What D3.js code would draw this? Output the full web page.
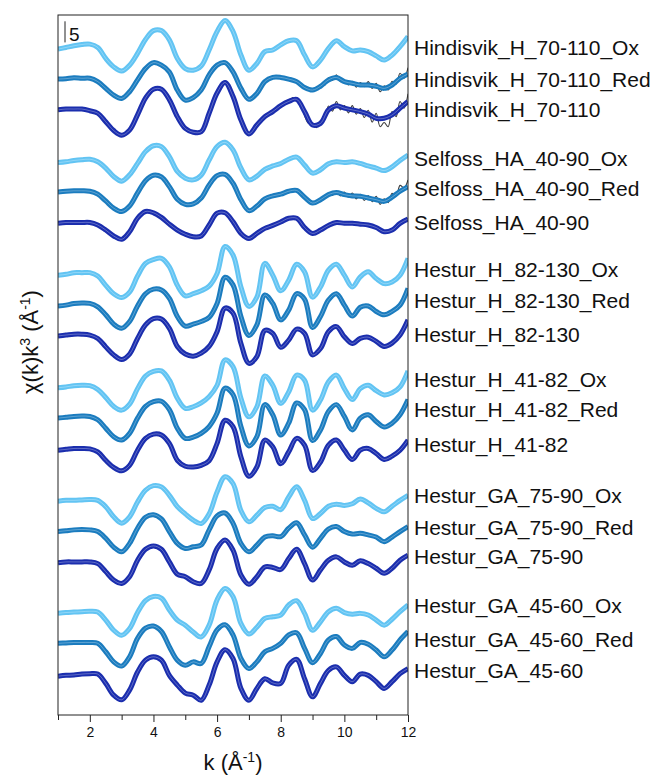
<!DOCTYPE html>
<html>
<meta charset="utf-8">
<head>
<title>chi(k)k3 stacked spectra</title>
<script src="https://d3js.org/d3.v7.min.js"></script>
<style>
body { margin: 0; background: #fff; }
text { font-family: Arial, "Liberation Sans", sans-serif; fill: #111; }
</style>
</head>
<body>
<div id="plot"></div>
<script>

// k grid of the read values
var kStart = 1, kStep = 0.25;
var kHiStart = 8, kHiStep = 0.125;

var names = [
	"Hindisvik_H_70-110_Ox", "Hindisvik_H_70-110_Red", "Hindisvik_H_70-110",
	"Selfoss_HA_40-90_Ox", "Selfoss_HA_40-90_Red", "Selfoss_HA_40-90",
	"Hestur_H_82-130_Ox", "Hestur_H_82-130_Red", "Hestur_H_82-130",
	"Hestur_H_41-82_Ox", "Hestur_H_41-82_Red", "Hestur_H_41-82",
	"Hestur_GA_75-90_Ox", "Hestur_GA_75-90_Red", "Hestur_GA_75-90",
	"Hestur_GA_45-60_Ox", "Hestur_GA_45-60_Red", "Hestur_GA_45-60"
];

// vertical offset of each trace
var offsets = [157.7, 150.8, 143.5, 131.0, 124.0, 116.6, 104.3, 97.0, 89.9,
	77.6, 70.4, 62.8, 50.7, 43.5, 36.1, 24.1, 17.0, 9.2];

var hindOx = [0.2,0.6,1.0,1.3,1.4,0.6,-2.0,-4.0,-5.0,-3.6,-0.8,2.5,4.6,4.6,2.4,-2.0,-4.4,-4.8,-3.8,0,4.4,7.0,4.4,-1.2,-4.8,-3.2,-0.4,0,1.2,2.2,2.2,-1.2,-4.0,-2.4,0.4,2.2,0.8,-0.2,0,-0.4,-1.4,-2.4,-1.2,0.8,3.2];
var hindRed = [0,0.1,0.3,0.2,0.2,-0.6,-2.2,-3.8,-4.6,-3.0,-0.2,2.5,3.9,3.3,1.7,-2.6,-5.0,-4.4,-2.6,1.0,3.3,3.9,1.7,-2.2,-4.8,-3.4,-0.6,0.4,0.4,0,-0.6,-2.0,-2.6,-1.7,-0.2,0.4,-0.6,-1.0,-1.4,-1.4,-1.7,-2.2,-1.4,0.2,1.2];
var hind = [0,0.2,0.2,0.2,-0.2,-0.8,-2.8,-4.9,-6.0,-4.8,-1.2,2.8,4.9,4.9,2.4,-1.6,-4.4,-5.3,-5.2,-0.8,4.0,6.5,3.2,-2.4,-5.7,-3.6,-1.6,-0.4,1.0,2.0,2.5,-0.4,-3.6,-3.2,0,1.0,0.4,0,-0.4,-1.0,-2.0,-2.0,-1.2,0.4,2.0];
var selfOx = [0,0.2,0.5,0.7,0.8,0.2,-1.3,-3.3,-4.4,-2.9,-0.2,2.6,4.0,3.8,1.4,-2.1,-3.7,-4.1,-3.0,0.6,3.8,4.8,3.0,-1.3,-4.1,-3.2,-1.6,-0.8,-0.2,0.8,1.3,-0.6,-2.5,-1.7,-0.3,0.2,0,0.2,-0.2,-0.8,-1.3,-1.9,-1.0,0.5,1.8];
var selfRed = [0,0.2,0.3,0.3,0.2,-0.5,-2.1,-3.8,-4.6,-3.3,-0.2,2.7,4.0,3.6,1.3,-1.7,-2.9,-2.8,-1.4,1.7,3.9,4.2,2.1,-1.8,-4.4,-3.3,-1.6,-0.9,-0.5,0.2,0.4,-1.2,-2.6,-1.8,-0.6,-0.1,-0.6,-0.9,-1.0,-1.4,-1.8,-2.2,-1.2,0.2,1.3];
var self = [0,0.2,0.2,0.2,0.2,-0.4,-1.6,-3.0,-3.8,-2.0,1.2,2.8,2.5,1.4,-0.2,-1.6,-2.6,-3.2,-3.0,-0.4,2.4,2.5,0.4,-2.4,-3.6,-2.4,-1.2,-0.5,0.3,1.2,1.2,-1.0,-2.4,-1.6,-0.5,0.2,0,0,-0.2,-0.4,-1.0,-2.0,-1.6,0,1.0];
var h82Ox = [0,0.2,0.6,0.6,0.6,-0.2,-2.4,-4.4,-5.3,-4.0,-0.2,2.8,3.7,4.0,2.0,-2.4,-4.9,-4.4,-3.7,-2.6,0.4,6.8,4.8,-2.8,-7.4,-5.2,2.8,0,-3.7,-1.2,2.6,0.8,-5.2,-2.8,1.2,2.6,0,-2.8,-0.4,0.8,-0.8,-2.0,-1.6,0,4.0];
var h82Red = [0,0.2,0.6,0.7,0.6,-0.2,-2.1,-4.3,-5.3,-3.7,0,2.9,4.0,3.8,1.8,-2.5,-4.8,-4.3,-3.7,-2.7,0.6,6.8,5.0,-2.5,-7.0,-4.5,2.6,0.6,-3.3,-1.0,2.9,1.6,-5.1,-2.5,1.4,2.9,0.2,-2.4,-0.3,0,-1.3,-2.1,-1.3,0.2,4.2];
var h82 = [0,0.2,0.4,0.4,0.2,-0.6,-2.6,-4.5,-5.6,-4.3,-0.6,2.6,4.1,4.0,1.8,-2.5,-4.3,-4.8,-4.1,-2.5,1.0,6.6,5.4,-1.8,-6.5,-4.9,1.3,0.6,-2.7,-1.0,1.6,0.6,-4.5,-3.0,1.0,2.2,-0.2,-1.8,-0.6,-0.3,-1.3,-2.5,-1.7,0.2,3.8];
var h41Ox = [0,0.2,0.5,0.6,0.5,-0.4,-2.3,-4.4,-5.3,-3.9,-0.2,2.8,3.9,4.0,1.8,-2.5,-4.9,-4.5,-3.6,-2.1,0.6,6.6,5.0,-2.5,-6.9,-4.5,2.8,0.6,-3.7,-1.0,3.0,1.8,-5.3,-2.9,1.4,3.0,-0.2,-2.8,-0.2,0.6,-0.7,-1.7,-1.2,0.2,4.0];
var h41Red = [0,0.2,0.4,0.5,0.4,-0.4,-2.4,-4.4,-5.2,-3.6,0,2.8,3.9,4.0,2.0,-2.4,-4.8,-4.5,-3.6,-2.0,1.2,7.1,5.6,-2.0,-6.6,-4.4,3.2,0.8,-4.0,-1.2,3.6,2.0,-5.3,-2.8,1.6,3.2,0.4,-2.8,0,0.8,-0.8,-2.1,-1.2,0.8,4.4];
var h41 = [0,0.2,0.4,0.4,0.3,-0.4,-2.4,-4.1,-4.9,-3.6,0,2.8,3.8,3.6,1.6,-2.4,-3.8,-4.0,-3.6,-2.5,1.6,7.1,5.6,-1.6,-6.2,-4.0,2.4,0.8,-3.2,-0.4,2.8,1.2,-4.8,-2.8,1.2,2.4,0,-2.2,0,0.4,-0.8,-2.2,-1.4,0,2.4];
var ga75Ox = [0,0.2,0.2,0.3,0.4,0.2,-1.3,-3.7,-5.2,-3.7,-0.2,2.6,3.7,3.4,1.4,-1.3,-3.0,-4.5,-5.3,-3.0,2.2,5.8,4.2,-2.2,-4.9,-3.3,-1.5,-1.2,-2.0,1.0,3.4,0.2,-4.1,-2.9,-1.2,-0.7,-1.0,-0.6,0.5,-0.4,-1.7,-2.5,-1.2,0.2,1.4];
var ga75Red = [0,0.2,0.4,0.5,0.4,0,-1.6,-3.7,-4.8,-2.8,0.8,3.4,4.0,3.0,0,-2.8,-4.0,-3.6,-3.2,0.4,3.7,4.4,2.0,-2.8,-4.8,-3.2,-1.3,-1.0,-1.2,0.8,2.1,-0.8,-3.7,-1.6,0.6,1.2,0,-0.6,-0.4,-0.8,-1.3,-2.4,-1.3,0,1.2];
var ga75 = [0,0.2,0.2,0.2,0.2,-0.2,-2.1,-4.1,-4.9,-3.3,0.6,3.2,4.0,3.2,0.2,-2.7,-3.3,-4.5,-4.9,-1.7,3.4,5.4,3.0,-2.9,-5.1,-3.3,-1.0,-1.1,-1.6,1.0,3.2,-0.2,-4.1,-1.7,0.6,1.4,0.2,-0.6,0.5,-0.2,-1.3,-2.5,-1.3,0.6,1.8];
var ga45Ox = [0,0.2,0.3,0.4,0.5,0.3,-1.6,-4.0,-5.2,-3.6,0.2,3.0,4.0,3.6,0.8,-1.6,-2.8,-4.4,-5.6,-2.8,3.2,5.9,4.0,-2.4,-4.9,-3.3,-1.2,-0.8,-0.4,2.0,3.0,0,-4.0,-2.0,0.4,1.2,0.2,-0.2,0,-0.4,-1.6,-2.8,-1.4,0.4,2.0];
var ga45Red = [0,0.1,0.2,0.2,0.2,0,-2.0,-4.4,-5.4,-3.2,1.2,3.6,4.1,2.8,-0.8,-4.0,-5.2,-4.4,-4.8,-0.8,3.2,4.4,2.0,-3.6,-6.0,-4.4,-2.0,-1.2,0,2.0,2.5,-1.2,-4.6,-2.4,0.8,1.6,-0.4,-1.2,0.2,-0.2,-1.6,-3.2,-1.6,0.8,2.8];
var ga45 = [0,0.2,0.3,0.5,0.6,0.5,-1.7,-4.5,-5.6,-3.3,1.0,3.8,4.6,3.8,0.2,-2.1,-4.0,-4.5,-5.7,-2.1,3.4,6.3,4.2,-2.9,-5.7,-2.9,-0.6,-1.6,-1.7,2.6,4.0,-0.6,-4.9,-1.7,1.4,2.2,0.2,-1.3,0.5,0.2,-1.3,-2.9,-1.3,0.6,1.8];

var series = [hindOx, hindRed, hind, selfOx, selfRed, self, h82Ox, h82Red, h82,
	h41Ox, h41Red, h41, ga75Ox, ga75Red, ga75, ga45Ox, ga45Red, ga45];

// noisy part (k >= 8) of the dark line where it leaves the markers
var hindRedHi = [0.4,0.4,-0.2,0,-0.6,-1.6,-1.8,-2.5,-2.3,-2.5,-1.3,-1.5,0.3,-0.3,1.0,-0.6,-0.2,-1.4,-0.5,-1.9,-0.8,-1.8,-0.6,-2.2,-1.0,-3.0,-1.6,-2.6,-0.5,-1.2,1.4,0.2,2.7];
var hindHi = [1.0,1.8,1.6,2.9,2.0,1.9,-1.4,-3.2,-3.1,-4.2,-2.5,-2.2,0.9,-0.3,2.0,0,1.0,-0.7,1.0,-1.0,0.3,-1.8,-0.1,-2.9,-0.8,-4.0,-3.0,-4.0,-0.4,-1.6,2.0,0.4,3.8];
var selfRedHi = [-0.5,-0.2,0.4,0.1,0.4,-0.1,-1.5,-1.9,-2.4,-2.4,-1.5,-1.5,-0.2,-0.8,0.2,-0.9,0,-1.2,-0.2,-1.6,-0.5,-2.0,-0.8,-2.3,-1.0,-2.9,-1.6,-2.5,-0.3,-1.0,1.6,1.0,2.9];
var lineHi = { 1: hindRedHi, 2: hindHi, 4: selfRedHi };

var xTicks = [1, 2, 3, 4, 5, 6, 7, 8, 9, 10, 11, 12];
var colours = ["#62c4f3", "#1b7cbf", "#1b2eae"];

// baselines of the sample names, in page pixels
var labelY = [55, 87, 117, 166, 196, 230, 277, 308, 342, 387, 417, 452, 503, 535, 564, 613, 647, 678];

var margin = { top: 15, right: 249, bottom: 61, left: 58 };
var width = 657 - margin.left - margin.right;
var height = 776 - margin.top - margin.bottom;

var xScale = d3.scaleLinear().domain([1, 12]).range([0, width]);
var yScale = d3.scaleLinear().domain([0, 166]).range([height, 0]);

var svg = d3.select("#plot").append("svg")
	.attr("width", 657)
	.attr("height", 776);

var g = svg.append("g")
	.attr("transform", "translate(" + margin.left + "," + margin.top + ")");

g.append("clipPath").attr("id", "clip")
	.append("rect").attr("width", width).attr("height", height);

var plot = g.append("g").attr("clip-path", "url(#clip)");

function pts(vals, off) {
	return vals.map(function(v, i) { return [kStart + i * kStep, off + v]; });
}

var line = d3.line()
	.x(function(d) { return xScale(d[0]); })
	.y(function(d) { return yScale(d[1]); })
	.curve(d3.curveCatmullRom.alpha(0.5));

series.forEach(function(vals, i) {
	var off = offsets[i];
	var p = pts(vals, off);
	var fit = p;
	if (lineHi[i]) {
		fit = p.filter(function(d) { return d[0] < kHiStart; })
			.concat(lineHi[i].map(function(v, j) { return [kHiStart + j * kHiStep, off + v]; }));
	}
	plot.append("path")
		.attr("d", line(fit))
		.attr("fill", "none")
		.attr("stroke", "#3c3c3c")
		.attr("stroke-width", 1.1);
	plot.append("path")
		.attr("d", line(p))
		.attr("fill", "none")
		.attr("stroke", colours[i % 3])
		.attr("stroke-width", 5)
		.attr("stroke-linejoin", "round");
	plot.append("path")
		.attr("d", line(p))
		.attr("fill", "none")
		.attr("stroke", "#fff")
		.attr("stroke-opacity", 0.3)
		.attr("stroke-width", 1);

	svg.append("text")
		.attr("x", margin.left + width + 6)
		.attr("y", labelY[i])
		.attr("font-size", "21px")
		.text(names[i]);
});

// frame
g.append("rect")
	.attr("width", width).attr("height", height)
	.attr("fill", "none").attr("stroke", "#222").attr("stroke-width", 1);

// x axis
var xAxis = d3.axisBottom(xScale)
	.tickValues(xTicks)
	.tickSize(6)
	.tickFormat(function(d) { return d % 2 === 0 ? d : ""; });

var ax = g.append("g")
	.attr("transform", "translate(0," + height + ")")
	.call(xAxis);
ax.select(".domain").remove();
ax.selectAll(".tick line").attr("stroke", "#222")
	.attr("y2", function(d) { return d % 2 === 0 ? 7 : 5; });
ax.selectAll(".tick text")
	.attr("font-size", "14px")
	.attr("font-family", "Arial, 'Liberation Sans', sans-serif")
	.attr("fill", "#111")
	.attr("dy", "0.95em");

// scale bar: 5 units
g.append("line")
	.attr("x1", 7).attr("x2", 7)
	.attr("y1", yScale(164.5)).attr("y2", yScale(159.5))
	.attr("stroke", "#222").attr("stroke-width", 1);
g.append("text")
	.attr("x", 11).attr("y", yScale(159.5) - 1)
	.attr("font-size", "19px")
	.text("5");

// axis titles
var xt = svg.append("text")
	.attr("x", margin.left + width / 2)
	.attr("y", 770)
	.attr("text-anchor", "middle")
	.attr("font-size", "22px");
xt.append("tspan").text("k (Å");
xt.append("tspan").attr("font-size", "14px").attr("dy", "-8").text("-1");
xt.append("tspan").attr("dy", "8").text(")");

var yt = svg.append("text")
	.attr("transform", "translate(38,342) rotate(-90)")
	.attr("text-anchor", "middle")
	.attr("font-size", "22px");
yt.append("tspan").text("χ(k)k");
yt.append("tspan").attr("font-size", "14px").attr("dy", "-8").text("3");
yt.append("tspan").attr("dy", "8").text(" (Å");
yt.append("tspan").attr("font-size", "14px").attr("dy", "-8").text("-1");
yt.append("tspan").attr("dy", "8").text(")");

</script>
</body>
</html>
